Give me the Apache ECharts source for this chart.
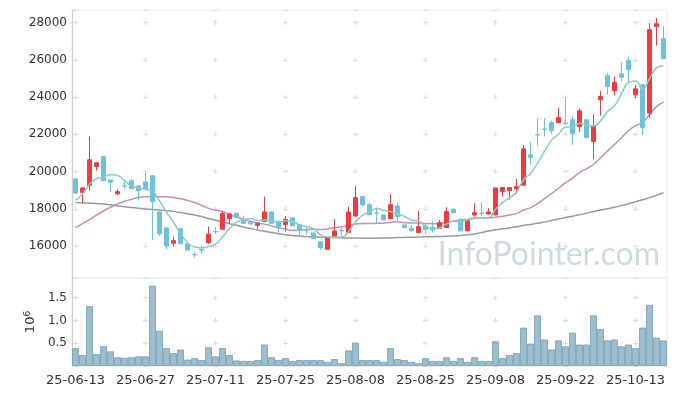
<!DOCTYPE html>
<html><head><meta charset="utf-8">
<script src="https://cdn.jsdelivr.net/npm/echarts@6/dist/echarts.min.js"></script>
<style>html,body{margin:0;padding:0;background:#fff}#c{width:677px;height:396px}</style>
</head><body><div id="c"></div>
<script>
const dates = ['25-06-13','25-06-16','25-06-17','25-06-18','25-06-19','25-06-20','25-06-23','25-06-24','25-06-25','25-06-26','25-06-27','25-06-30',
'25-07-01','25-07-02','25-07-03','25-07-04','25-07-07','25-07-08','25-07-09','25-07-10','25-07-11','25-07-14','25-07-15','25-07-16','25-07-17','25-07-18','25-07-21','25-07-22','25-07-23','25-07-24','25-07-25','25-07-28','25-07-29','25-07-30','25-07-31',
'25-08-01','25-08-04','25-08-05','25-08-06','25-08-07','25-08-08','25-08-11','25-08-12','25-08-13','25-08-14','25-08-18','25-08-19','25-08-20','25-08-21','25-08-22','25-08-25','25-08-26','25-08-27','25-08-28','25-08-29',
'25-09-01','25-09-02','25-09-03','25-09-04','25-09-05','25-09-08','25-09-09','25-09-10','25-09-11','25-09-12','25-09-15','25-09-16','25-09-17','25-09-18','25-09-19','25-09-22','25-09-23','25-09-24','25-09-25','25-09-26','25-09-29','25-09-30',
'25-10-01','25-10-02','25-10-10','25-10-13','25-10-14','25-10-15','25-10-16','25-10-17'];

const opens  = [19600,18870,19245,20270,20800,19550,18810,19240,19500,19230,19440,19770,17830,16970,16150,16920,16110,15540,15800,16180,16780,16900,17470,17760,17440,17290,17110,17310,17830,17330,17150,17510,17150,16870,16690,16230,15820,16500,16840,16720,17610,18650,18220,17770,17670,17470,18150,17130,16950,16720,17080,17010,16950,16990,17980,17440,16810,17670,17770,17720,17670,18920,18980,19070,19270,20900,21980,22290,22630,22630,22610,22780,22420,22780,21610,23860,25150,24340,25250,25970,24120,24660,23140,27800,27140];
const closes = [18840,19120,20630,20470,19510,19430,18920,19220,19080,18980,19050,18380,16650,16000,16290,16120,15790,15520,15780,16630,16760,17740,17720,17540,17220,17180,17220,17830,17220,17040,17440,17090,16820,16850,16390,15910,16450,16810,16810,17830,18600,18210,17670,17750,17400,18210,17580,16990,16810,17040,16900,16860,17250,17850,17790,16810,17360,17790,17750,17830,19120,19140,19140,19190,21220,20750,21960,22270,22200,22900,22590,22030,23260,21830,22460,24030,24570,24790,25060,25470,24450,22370,27620,27940,26060];
const lows   = [18800,18300,18975,20050,19480,18920,18730,19060,19050,18440,19000,16320,16540,15840,15960,16100,15780,15390,15600,16110,16630,16880,17180,17500,17200,17150,16920,17290,17200,16720,16770,17060,16590,16630,16380,15790,15800,16480,16470,16700,17580,18150,17650,17220,17380,17450,17350,16970,16790,16700,16650,16720,16930,16970,17770,16790,16790,17580,17580,17700,17650,18650,18480,18800,19250,20360,21380,21880,22030,22600,22500,21430,22120,21800,20660,23010,24120,24090,24840,24750,23950,21970,22870,26780,26040];
const highs  = [19650,19150,21880,20500,20850,19560,19050,19460,19600,19260,19940,19800,17850,16990,16500,16950,16120,15690,16000,17040,17020,17850,17740,17780,17630,17300,17240,18650,17850,17360,17610,17530,17170,17080,16800,16240,16480,17440,16990,18110,19230,18700,18330,18060,17690,18800,18350,17150,17130,17900,17220,17340,17400,18080,18000,17460,17380,18300,18350,18030,19140,19160,19170,19600,21430,21580,22870,22870,22730,23410,23950,22960,23370,22800,23090,24340,25290,25110,25880,26150,24660,24700,27980,28250,27840];

// volume in millions of shares
const volumes = [0.39,0.24,1.31,0.26,0.43,0.32,0.19,0.18,0.19,0.21,0.21,1.76,0.77,0.39,0.28,0.36,0.14,0.17,0.13,0.41,0.21,0.39,0.24,0.12,0.11,0.11,0.13,0.47,0.19,0.13,0.17,0.11,0.13,0.13,0.13,0.13,0.09,0.15,0.06,0.34,0.51,0.13,0.13,0.13,0.09,0.39,0.15,0.13,0.09,0.06,0.17,0.11,0.11,0.19,0.11,0.17,0.09,0.19,0.11,0.11,0.54,0.17,0.24,0.28,0.84,0.49,1.11,0.58,0.36,0.56,0.43,0.73,0.47,0.47,1.11,0.81,0.56,0.58,0.43,0.47,0.39,0.84,1.34,0.62,0.56];

const ma5 = [18450,18800,19300,19620,19714,19832,19792,19510,19232,19126,19050,18942,18428,17812,17274,16688,16170,15944,15900,15968,16096,16486,16926,17278,17396,17480,17376,17398,17334,17298,17350,17324,17122,17048,16918,16612,16484,16482,16474,16762,17300,17652,17824,18012,17926,17848,17722,17586,17398,17326,17064,16920,16972,17180,17330,17312,17412,17520,17500,17508,17970,18326,18596,18884,19562,19888,20452,21078,21680,22016,22384,22398,22596,22522,22434,22722,23230,23536,24182,24784,24868,24428,24994,25570,25688];
const ma20 = [16990,17200,17420,17660,17880,18080,18260,18400,18510,18600,18650,18660,18650,18640,18600,18540,18450,18340,18190,18020,17917,17848,17702,17556,17441,17329,17244,17174,17081,16984,16904,16839,16848,16890,16895,16885,16918,16982,17034,17094,17186,17209,17207,17217,17226,17278,17296,17254,17233,17233,17206,17195,17216,17266,17336,17381,17427,17476,17523,17523,17549,17595,17669,17741,17932,18059,18278,18542,18811,19104,19389,19647,19948,20147,20380,20741,21102,21452,21817,22199,22466,22627,23051,23489,23731];
const ma60 = [18330,18320,18300,18280,18260,18210,18160,18110,18070,18030,17990,17960,17930,17900,17860,17800,17730,17660,17580,17480,17380,17290,17200,17110,17020,16940,16860,16790,16720,16660,16610,16570,16540,16510,16490,16470,16460,16450,16440,16430,16430,16420,16420,16420,16430,16440,16450,16460,16470,16480,16490,16500,16510,16520,16540,16560,16600,16650,16720,16800,16870,16920,16970,17030,17100,17160,17220,17290,17370,17450,17530,17600,17680,17760,17850,17930,18000,18080,18170,18270,18380,18480,18600,18720,18860];

const priceMin = 14280, priceMax = 28680, priceStep = 2000;
const volMax = 1.93, volStep = 0.5;
const labelEvery = 10;

// layout
const G1 = {left: 72, top: 10, width: 595, height: 268};
const G2 = {left: 72, top: 278, width: 595, height: 88};
const band = G1.width / dates.length;
const hPeriod = band * labelEvery;
const hStart = band * 0.5 - 2.5;
const hDash = {type: [5, hPeriod - 5], dashOffset: hPeriod - hStart};
function vDash(h, min, max, step, firstTick) {
  const per = h * step / (max - min);
  let s0 = h * (max - firstTick) / (max - min) - 2.5;
  s0 = ((s0 % per) + per) % per;
  return {type: [5, per - 5], dashOffset: per - s0};
}
const v1 = vDash(G1.height, priceMin, priceMax, priceStep, Math.floor(priceMax / priceStep) * priceStep);
const v2 = vDash(G2.height, 0, volMax, volStep, Math.floor(volMax / volStep) * volStep);

const ohlc = dates.map((d, i) => [opens[i], closes[i], lows[i], highs[i]]);
const font = 'DejaVu Sans';
const gridLineColor = '#dcdcdc';

const chart = echarts.init(document.getElementById('c'), null, {renderer: 'canvas'});
chart.setOption({
  animation: false,
  backgroundColor: '#fff',
  textStyle: {fontFamily: font},
  grid: [
    Object.assign({show: true, borderColor: '#ebebeb', borderWidth: 1}, G1),
    Object.assign({show: true, borderColor: '#ebebeb', borderWidth: 1}, G2)
  ],
  graphic: [{
    type: 'text', right: 17, top: 239, z: 0,
    style: {text: 'InfoPointer.com', fontFamily: 'Lato', fontSize: 32, fill: 'rgba(110,155,185,0.36)'}
  }],
  xAxis: [
    {type: 'category', data: dates, gridIndex: 0, boundaryGap: true,
     axisLine: {show: false}, axisTick: {show: false}, axisLabel: {show: false},
     splitLine: {show: true, interval: labelEvery - 1, alignWithLabel: true,
                 lineStyle: Object.assign({color: gridLineColor, width: 1}, v1)}},
    {type: 'category', data: dates, gridIndex: 1, boundaryGap: true,
     axisLine: {show: false}, axisTick: {show: false},
     axisLabel: {interval: labelEvery - 1, color: '#333', fontSize: 13, fontFamily: font, margin: 8},
     splitLine: {show: true, interval: labelEvery - 1, alignWithLabel: true,
                 lineStyle: Object.assign({color: gridLineColor, width: 1}, v2)}}
  ],
  yAxis: [
    {type: 'value', gridIndex: 0, min: priceMin, max: priceMax, splitNumber: 7, scale: true,
     axisLine: {show: true, lineStyle: {color: '#cccccc'}}, axisTick: {show: false},
     axisLabel: {color: '#333', fontSize: 12, fontFamily: font, showMinLabel: false, showMaxLabel: false, margin: 5,
                 formatter: v => String(v)},
     splitLine: {show: true, lineStyle: Object.assign({color: gridLineColor, width: 1}, hDash)}},
    {type: 'value', gridIndex: 1, min: 0, max: volMax, interval: volStep,
     name: '{b|10}{s|6}', nameLocation: 'middle', nameGap: 31, nameRotate: 90,
     nameTextStyle: {rich: {b: {fontSize: 13, fontFamily: font, color: '#333'}, s: {fontSize: 9, fontFamily: font, color: '#333', verticalAlign: 'top', padding: [0, 0, 6, 0]}}},
     axisLine: {show: true, lineStyle: {color: '#cccccc'}}, axisTick: {show: false},
     axisLabel: {color: '#333', fontSize: 12, fontFamily: font, showMinLabel: false, showMaxLabel: false, margin: 5,
                 formatter: v => v.toFixed(1)},
     splitLine: {show: true, lineStyle: Object.assign({color: gridLineColor, width: 1}, hDash)}}
  ],
  series: [
    {type: 'candlestick', xAxisIndex: 0, yAxisIndex: 0, data: ohlc, barWidth: 5, z: 3,
     itemStyle: {color: '#ef3b3f', color0: '#6cc2dc', borderColor: '#ef3b3f', borderColor0: '#6cc2dc', borderWidth: 1}},
    {type: 'line', name: 'MA5', xAxisIndex: 0, yAxisIndex: 0, data: ma5, smooth: true, showSymbol: false, z: 4,
     lineStyle: {color: '#86cfc2', width: 1.5}},
    {type: 'line', name: 'MA20', xAxisIndex: 0, yAxisIndex: 0, data: ma20, smooth: true, showSymbol: false, z: 2,
     lineStyle: {color: '#c98cc3', width: 1.5}},
    {type: 'line', name: 'MA60', xAxisIndex: 0, yAxisIndex: 0, data: ma60, smooth: true, showSymbol: false, z: 2,
     lineStyle: {color: '#9a9a9a', width: 1.5}},
    {type: 'bar', xAxisIndex: 1, yAxisIndex: 1, data: volumes, barCategoryGap: '4%',
     itemStyle: {color: 'rgba(124,168,190,0.75)', borderColor: '#6f9db3', borderWidth: 0.8}}
  ]
});
</script></body></html>
